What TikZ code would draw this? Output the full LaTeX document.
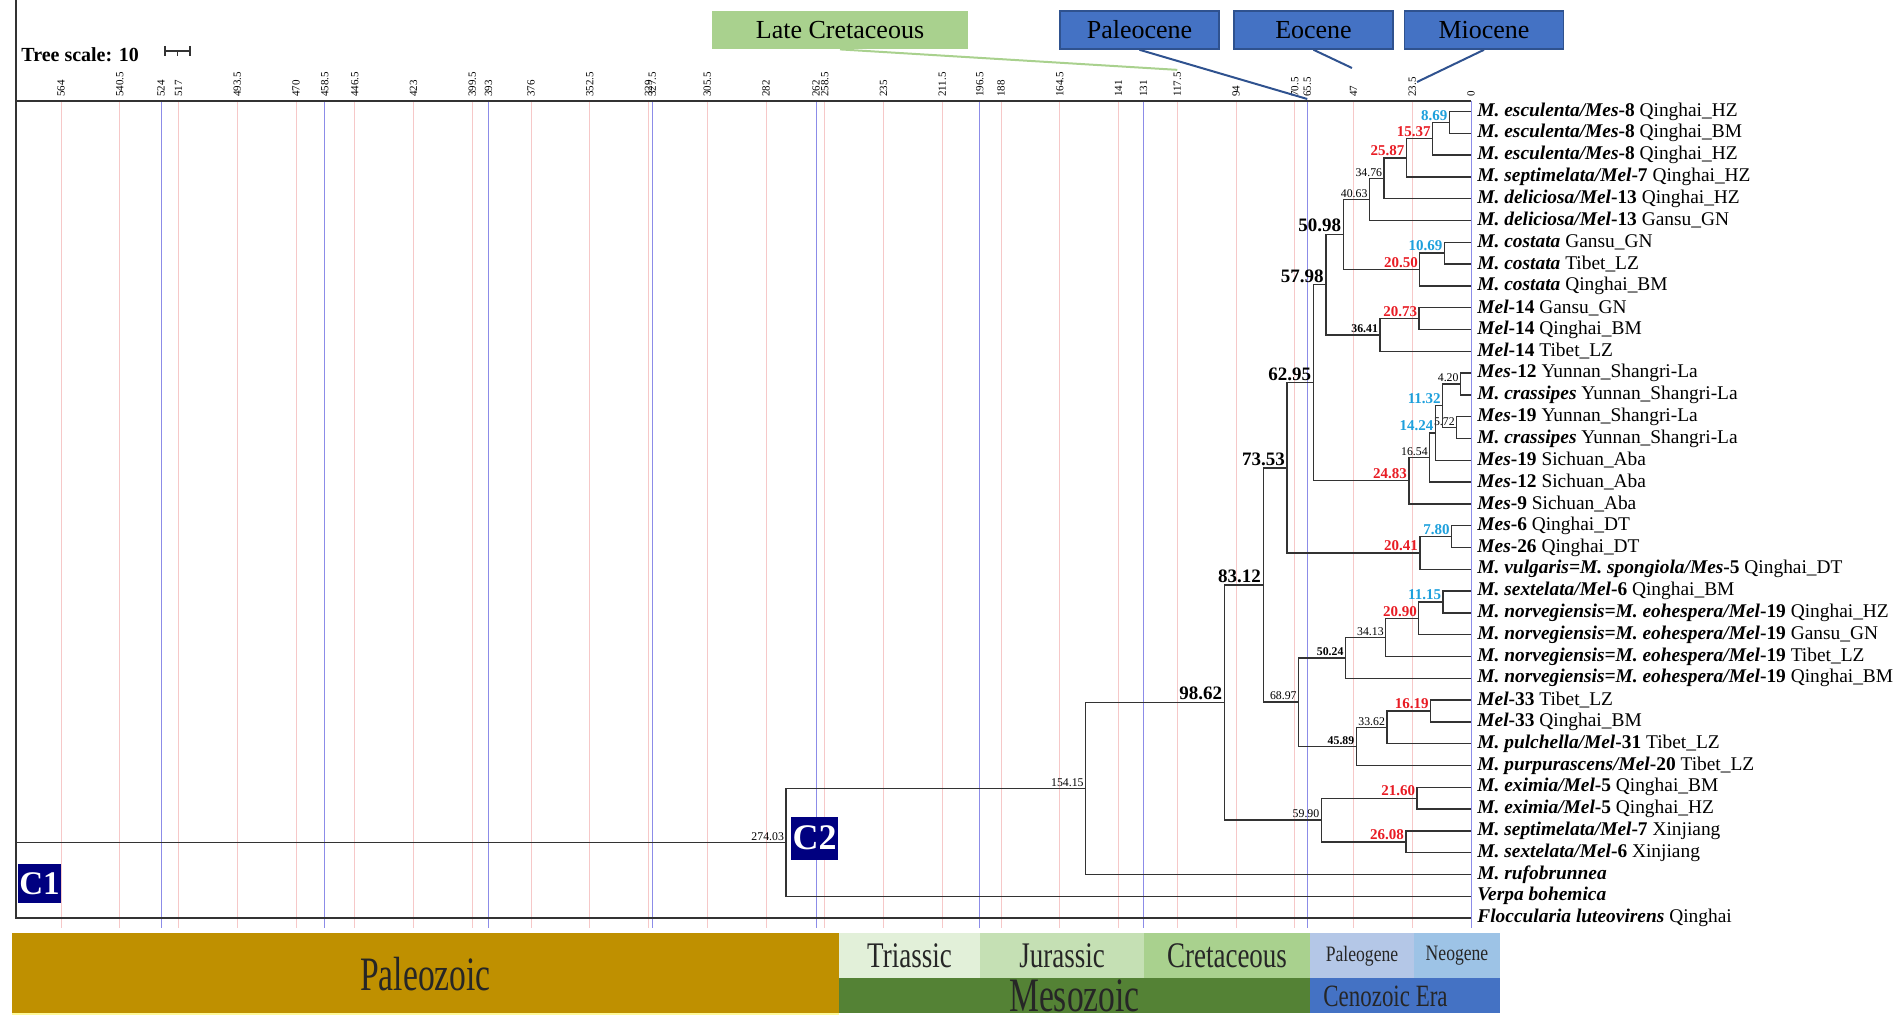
\documentclass[tikz,border=0pt]{standalone}
\usepackage{fontspec}
\setmainfont{Liberation Serif}
\usetikzlibrary{calc}

\definecolor{gridred}{RGB}{246,200,200}
\definecolor{gridblue}{RGB}{140,140,232}
\definecolor{labred}{RGB}{232,28,36}
\definecolor{labblue}{RGB}{30,160,220}
\definecolor{navybox}{RGB}{0,0,128}
\definecolor{epochblue}{HTML}{4472C4}
\definecolor{epochedge}{HTML}{2F528F}
\definecolor{lategreen}{HTML}{A9D18E}
\definecolor{paleozoic}{HTML}{BF9000}
\definecolor{triassic}{HTML}{E2F0D9}
\definecolor{jurassic}{HTML}{C5E0B4}
\definecolor{cretaceous}{HTML}{A9D18E}
\definecolor{mesozoic}{HTML}{548235}
\definecolor{paleogene}{HTML}{B4C7E7}
\definecolor{neogene}{HTML}{9DC3E6}
\definecolor{cenozoic}{HTML}{4472C4}

\newcommand{\spname}[1]{\textbf{\textit{#1}}}
\newcommand{\mnorv}{\spname{M. norvegiensis=M. eohespera/Mel}\textbf{-19}}

\tikzset{
  branch/.style={draw=black!80, line width=0.7pt},
  redgrid/.style={draw=gridred, line width=0.5pt},
  bluegrid/.style={draw=gridblue, line width=0.5pt},
  tick/.style={font=\fontsize{5.5}{6}\selectfont, rotate=90, anchor=west, inner sep=1pt},
  tiplab/.style={font=\fontsize{9.7}{10}\selectfont, anchor=west, inner sep=0pt},
  sml/.style={font=\fontsize{5.9}{6}\selectfont, inner sep=0.8pt},
  smlb/.style={font=\fontsize{5.9}{6}\selectfont\bfseries, inner sep=0.8pt},
  redlab/.style={font=\fontsize{7.5}{8}\selectfont\bfseries, text=labred, inner sep=0.8pt},
  bluelab/.style={font=\fontsize{7.5}{8}\selectfont\bfseries, text=labblue, inner sep=0.8pt},
  big/.style={font=\fontsize{9.5}{10}\selectfont\bfseries, inner sep=1pt},
  epoch/.style={draw=epochedge, fill=epochblue, line width=0.8pt, minimum width=79.5pt, minimum height=19pt, inner sep=0pt, font=\fontsize{13}{14}\selectfont},
  cbox/.style={fill=navybox, text=white, inner sep=0pt, font=\bfseries},
  bartext/.style={text=black!85, inner sep=0pt}
}

% parent, age, first child, second child, label
\newcommand{\clade}[6][sml]{%
  \path let \p1=(#4), \p2=(#5) in coordinate (#2) at ({(1471-2.5*#3)*0.5pt}, {0.5*(\y1+\y2)});
  \draw[branch] (#4) -| (#2) |- (#5);
  \node[#1, anchor=south east] at (#2) {#6};
}

\begin{document}
\begin{tikzpicture}[x=0.5pt, y=-0.5pt]
\useasboundingbox (0,0) rectangle (1902,1026);

% time grid
\foreach \v [count=\i] in {23.5,47,70.5,94,117.5,141,164.5,188,211.5,235,258.5,282,305.5,329,352.5,376,399.5,423,446.5,470,493.5,517,540.5,564}{
  \draw[redgrid] ({1471-2.5*\v},101) -- ({1471-2.5*\v},928);
  \node[tick] (r\i) at ({1471-2.5*\v},99) {\v};
}
\foreach \v [count=\i] in {65.5,131,196.5,262,327.5,393,458.5,524}{
  \draw[bluegrid] ({1471-2.5*\v},101) -- ({1471-2.5*\v},928);
  \node[tick] (b\i) at ({1471-2.5*\v},99) {\v};
}
\draw[bluegrid] (1471,101) -- (1471,928);
\node[tick] (b0) at (1471,99) {0};
\draw[black!80, line width=0.9pt] (16,101) -- (1471,101);

% tree scale
\node[font=\fontsize{10}{11}\selectfont\bfseries, anchor=west, inner sep=0pt] (scale) at (21,55) {Tree scale: 10};
\draw[black!80, line width=0.7pt] (165,46) -- (165,56) (165,51) -- (190,51) (190,46) -- (190,56) (177.5,51) -- (177.5,56);

% epochs
\node[fill=lategreen, minimum width=128pt, minimum height=19pt, inner sep=0pt, font=\fontsize{13}{14}\selectfont] (latecret) at (840,30) {Late Cretaceous};
\node[epoch] (paleoc) at (1139.5,30) {Paleocene};
\node[epoch] (eoc) at (1313.5,30) {Eocene};
\node[epoch] (mioc) at (1484,30) {Miocene};
\coordinate (eocend) at (1352,68);
\coordinate (miocend) at (1417,82);
\draw[lategreen, line width=1pt] (latecret.south) -- (r5.east);
\draw[epochedge, line width=1pt] (paleoc.south) -- (b1.west);
\draw[epochedge, line width=1pt] (eoc.south) -- (eocend);
\draw[epochedge, line width=1pt] (mioc.south) -- (miocend);

% tips
\foreach \lab [count=\i] in {
  {\spname{M. esculenta/Mes}\textbf{-8} Qinghai\_HZ},
  {\spname{M. esculenta/Mes}\textbf{-8} Qinghai\_BM},
  {\spname{M. esculenta/Mes}\textbf{-8} Qinghai\_HZ},
  {\spname{M. septimelata/Mel}\textbf{-7} Qinghai\_HZ},
  {\spname{M. deliciosa/Mel}\textbf{-13} Qinghai\_HZ},
  {\spname{M. deliciosa/Mel}\textbf{-13} Gansu\_GN},
  {\spname{M. costata} Gansu\_GN},
  {\spname{M. costata} Tibet\_LZ},
  {\spname{M. costata} Qinghai\_BM},
  {\spname{Mel}\textbf{-14} Gansu\_GN},
  {\spname{Mel}\textbf{-14} Qinghai\_BM},
  {\spname{Mel}\textbf{-14} Tibet\_LZ},
  {\spname{Mes}\textbf{-12} Yunnan\_Shangri-La},
  {\spname{M. crassipes} Yunnan\_Shangri-La},
  {\spname{Mes}\textbf{-19} Yunnan\_Shangri-La},
  {\spname{M. crassipes} Yunnan\_Shangri-La},
  {\spname{Mes}\textbf{-19} Sichuan\_Aba},
  {\spname{Mes}\textbf{-12} Sichuan\_Aba},
  {\spname{Mes}\textbf{-9} Sichuan\_Aba},
  {\spname{Mes}\textbf{-6} Qinghai\_DT},
  {\spname{Mes}\textbf{-26} Qinghai\_DT},
  {\spname{M. vulgaris=M. spongiola/Mes}\textbf{-5} Qinghai\_DT},
  {\spname{M. sextelata/Mel}\textbf{-6} Qinghai\_BM},
  {\mnorv{} Qinghai\_HZ},
  {\mnorv{} Gansu\_GN},
  {\mnorv{} Tibet\_LZ},
  {\mnorv{} Qinghai\_BM},
  {\spname{Mel}\textbf{-33} Tibet\_LZ},
  {\spname{Mel}\textbf{-33} Qinghai\_BM},
  {\spname{M. pulchella/Mel}\textbf{-31} Tibet\_LZ},
  {\spname{M. purpurascens/Mel}\textbf{-20} Tibet\_LZ},
  {\spname{M. eximia/Mel}\textbf{-5} Qinghai\_BM},
  {\spname{M. eximia/Mel}\textbf{-5} Qinghai\_HZ},
  {\spname{M. septimelata/Mel}\textbf{-7} Xinjiang},
  {\spname{M. sextelata/Mel}\textbf{-6} Xinjiang},
  {\spname{M. rufobrunnea}},
  {\spname{Verpa bohemica}},
  {\spname{Floccularia luteovirens} Qinghai}}{
  \coordinate (t\i) at (1471,{111.5+21.8*(\i-1)});
  \node[tiplab] (l\i) at (1477,{111.5+21.8*(\i-1)}) {\lab};
}

% clades
\clade[bluelab]{n1}{8.69}{t1}{t2}{8.69}
\clade[redlab]{n2}{15.37}{n1}{t3}{15.37}
\clade[redlab]{n3}{25.87}{n2}{t4}{25.87}
\clade{n4}{34.76}{n3}{t5}{34.76}
\clade{n5}{40.63}{n4}{t6}{40.63}
\clade[bluelab]{n6}{10.69}{t7}{t8}{10.69}
\clade[redlab]{n7}{20.50}{n6}{t9}{20.50}
\clade[big]{n8}{50.98}{n5}{n7}{50.98}
\clade[redlab]{n9}{20.73}{t10}{t11}{20.73}
\clade[smlb]{n10}{36.41}{n9}{t12}{36.41}
\clade[big]{n11}{57.98}{n8}{n10}{57.98}
\clade{n12}{4.20}{t13}{t14}{4.20}
\clade{n13}{5.72}{t15}{t16}{5.72}
\clade[bluelab]{n14}{11.32}{n12}{n13}{11.32}
\clade[bluelab]{n15}{14.24}{n14}{t17}{14.24}
\clade{n16}{16.54}{n15}{t18}{16.54}
\clade[redlab]{n17}{24.83}{n16}{t19}{24.83}
\clade[big]{n18}{62.95}{n11}{n17}{62.95}
\clade[bluelab]{n19}{7.80}{t20}{t21}{7.80}
\clade[redlab]{n20}{20.41}{n19}{t22}{20.41}
\clade[big]{n21}{73.53}{n18}{n20}{73.53}
\clade[bluelab]{n22}{11.15}{t23}{t24}{11.15}
\clade[redlab]{n23}{20.90}{n22}{t25}{20.90}
\clade{n24}{34.13}{n23}{t26}{34.13}
\clade[smlb]{n25}{50.24}{n24}{t27}{50.24}
\clade[redlab]{n26}{16.19}{t28}{t29}{16.19}
\clade{n27}{33.62}{n26}{t30}{33.62}
\clade[smlb]{n28}{45.89}{n27}{t31}{45.89}
\clade{n29}{68.97}{n25}{n28}{68.97}
\clade[big]{n30}{83.12}{n21}{n29}{83.12}
\clade[redlab]{n31}{21.60}{t32}{t33}{21.60}
\clade[redlab]{n32}{26.08}{t34}{t35}{26.08}
\clade{n33}{59.90}{n31}{n32}{59.90}
\clade[big]{n34}{98.62}{n30}{n33}{98.62}
\clade{n35}{154.15}{n34}{t36}{154.15}
\clade{n36}{274.03}{n35}{t37}{274.03}
\path let \p1=(n36), \p2=(t38) in coordinate (root) at (16,{0.5*(\y1+\y2)/0.5pt*(-1)});
\draw[branch] (n36) -| (root) |- (t38);

\node[cbox, minimum width=21.5pt, minimum height=19.5pt, font=\fontsize{16.5}{17}\selectfont\bfseries] (c1) at (39.5,883.5) {C1};
\node[cbox, minimum width=23.5pt, minimum height=21.5pt, font=\fontsize{18}{19}\selectfont\bfseries] (c2) at (814.5,838) {C2};

% geologic time bars
\fill[paleozoic] (12,933) rectangle (839,1013);
\fill[triassic] (839,933) rectangle (980,978);
\fill[jurassic] (980,933) rectangle (1144,978);
\fill[cretaceous] (1144,933) rectangle (1310,978);
\fill[mesozoic] (839,978) rectangle (1310,1013);
\fill[paleogene] (1310,933) rectangle (1414,978);
\fill[neogene] (1414,933) rectangle (1500,978);
\fill[cenozoic] (1310,978) rectangle (1500,1013);
\draw[yellow!40, line width=1pt] (12,1014) -- (839,1014);
\node[bartext, font=\fontsize{24}{26}\selectfont] (paleoz) at (425.5,974) {\scalebox{.7}[1]{Paleozoic}};
\node[bartext, font=\fontsize{18}{20}\selectfont] (trias) at (909.5,956) {\scalebox{.75}[1]{Triassic}};
\node[bartext, font=\fontsize{18}{20}\selectfont] (juras) at (1062,956) {\scalebox{.75}[1]{Jurassic}};
\node[bartext, font=\fontsize{18}{20}\selectfont] (cretac) at (1227,956) {\scalebox{.75}[1]{Cretaceous}};
\node[bartext, font=\fontsize{24}{26}\selectfont] (mesoz) at (1074.5,996) {\scalebox{.7}[1]{Mesozoic}};
\node[bartext, font=\fontsize{11}{12}\selectfont] (paleog) at (1362,956) {\scalebox{.8}[1]{Paleogene}};
\node[bartext, font=\fontsize{11}{12}\selectfont] (neog) at (1457,956) {\scalebox{.8}[1]{Neogene}};
\node[bartext, font=\fontsize{15.5}{17}\selectfont, anchor=west] (cenoz) at (1323,996) {\scalebox{.74}[1]{Cenozoic Era}};
\end{tikzpicture}
\end{document}
